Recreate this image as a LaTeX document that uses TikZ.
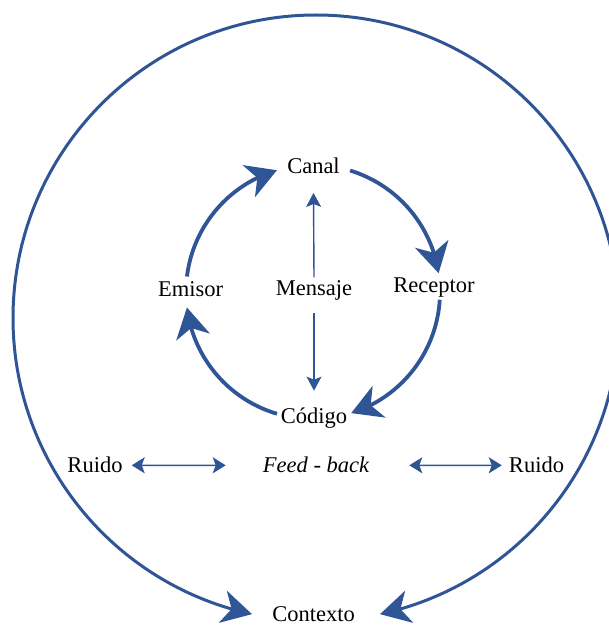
\documentclass[tikz,border=0pt]{standalone}
\usepackage{fontspec}
\setmainfont{Liberation Serif}
\usetikzlibrary{arrows.meta,bending}
\definecolor{cblue}{RGB}{47,85,151}
\begin{document}
\begin{tikzpicture}[x=1pt,y=1pt,
  lbl/.style={inner sep=0pt,anchor=base,font=\fontsize{22.5}{27}\selectfont},
  bigarc/.style={draw=cblue,line width=3.8pt,-{Stealth[length=30pt,width=34pt,inset=9pt,flex]}},
  outerarc/.style={draw=cblue,line width=3pt,-{Stealth[length=30pt,width=33pt,inset=9pt,flex]}},
  thinarrow/.style={draw=cblue,line width=1.4pt,-{Stealth[length=14pt,width=15pt,inset=3pt]}},
  dblarrow/.style={draw=cblue,line width=1.6pt,{Stealth[length=13pt,width=16pt,inset=3pt]}-{Stealth[length=13pt,width=16pt,inset=3pt]}}]
\useasboundingbox (0,0) rectangle (609,625);
\clip (0,0) rectangle (609,625);
% labels
\node[lbl] (canal) at (313.5,451.5) {Canal};
\node[lbl] (mensaje) at (314,329) {Mensaje};
\node[lbl] (emisor) at (190.5,328) {Emisor};
\node[lbl] (receptor) at (434,332) {Receptor};
\node[lbl] (codigo) at (314,201.5) {Código};
\node[lbl] (ruidoL) at (95,152.5) {Ruido};
\node[lbl] (feed) at (316,152) {\itshape Feed - back};
\node[lbl] (ruidoR) at (536.5,152.5) {Ruido};
\node[lbl] (contexto) at (313.5,3.5) {Contexto};
% inner cycle
\coordinate (ic) at (313,333);
\path[bigarc] (ic) ++(173:127) arc[start angle=173,end angle=106.5,radius=127];
\path[bigarc] (ic) ++(73:127) arc[start angle=73,end angle=8.5,radius=127];
\path[bigarc] (ic) ++(-3.5:127) arc[start angle=-3.5,end angle=-72.5,radius=127];
\path[bigarc] (ic) ++(253.5:127) arc[start angle=253.5,end angle=187,radius=127];
% outer context circle
\coordinate (oc) at (316,307);
\path[outerarc] (oc) ++(90:303) arc[start angle=90,end angle=257.8,radius=303];
\path[outerarc] (oc) ++(90:303) arc[start angle=90,end angle=-77.8,radius=303];
% mensaje arrows
\draw[thinarrow] ([yshift=3.5pt]mensaje.north) -- ([yshift=-19pt]canal.south);
\draw[thinarrow] ([yshift=-12pt]mensaje.south) -- ([yshift=17pt]codigo.north);
% ruido arrows
\draw[dblarrow] ([xshift=9pt,yshift=-0.5pt]ruidoL.east) -- ([xshift=-37pt,yshift=0pt]feed.west);
\draw[dblarrow] ([xshift=40pt]feed.east) -- ([xshift=-7pt,yshift=-0.5pt]ruidoR.west);
\end{tikzpicture}
\end{document}
